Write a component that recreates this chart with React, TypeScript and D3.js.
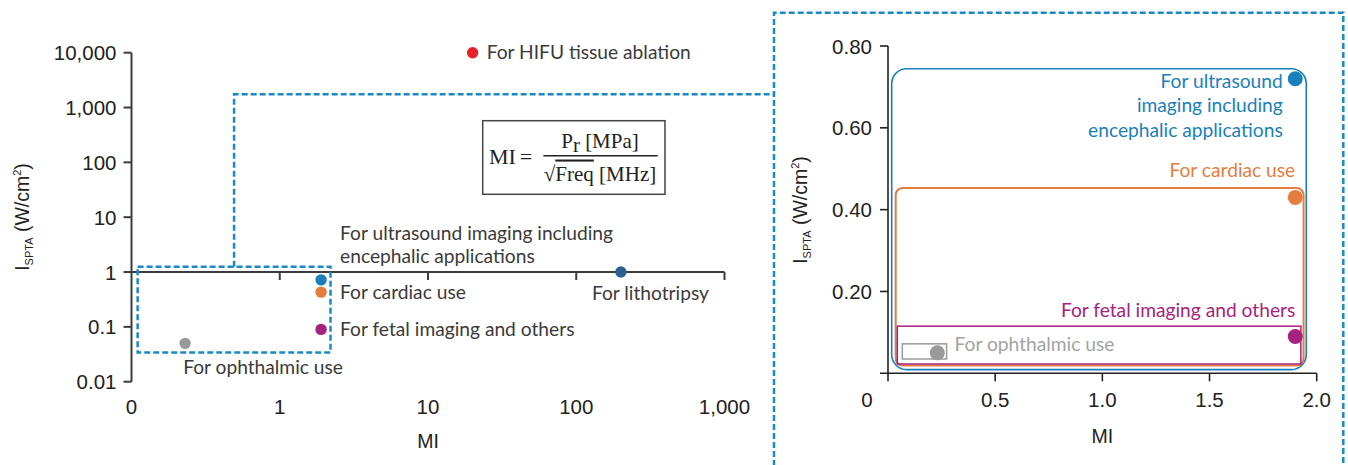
import React from 'react';
import * as d3 from 'd3';

// data
const categories = [
  'For HIFU tissue ablation',
  'For lithotripsy',
  'For ultrasound imaging including encephalic applications',
  'For cardiac use',
  'For fetal imaging and others',
  'For ophthalmic use',
];
const miValues = [20, 200, 1.9, 1.9, 1.9, 0.23];
const isptaValues = [10000, 1, 0.72, 0.43, 0.09, 0.05];
const colors = ['#e8202a', '#2b6095', '#1a80bb', '#e57d3d', '#a5237f', '#9a9a9c'];

const logXTicks = [0.1, 1, 10, 100, 1000];
const logXLabels = ['0', '1', '10', '100', '1,000'];
const logYTicks = [0.01, 0.1, 1, 10, 100, 1000, 10000];
const logYLabels = ['0.01', '0.1', '1', '10', '100', '1,000', '10,000'];
const linXTicks = [0, 0.5, 1, 1.5, 2];
const linXLabels = ['0', '0.5', '1.0', '1.5', '2.0'];
const linYTicks = [0.2, 0.4, 0.6, 0.8];
const linYLabels = ['0.20', '0.40', '0.60', '0.80'];

// zoomed region on the log chart (MI, ISPTA)
const zoomMI = [0.11, 2.2];
const zoomISPTA = [0.034, 1.25];

const W = 1348;
const H = 465;
const tickFont = '"Liberation Sans", Arial, sans-serif';
const labelFont = 'Lato, "Noto Sans", sans-serif';
const serif = '"Liberation Serif", "Times New Roman", serif';
const dash = '#1a8ac6';
const axisColor = '#3c3c3c';
const textColor = '#3a3a3a';
const tickSize = 20.5;
const labelSize = 19.2;

function YLabel({ x, y }: { x: number; y: number }) {
  return (
    <text
      transform={`translate(${x},${y}) rotate(-90)`}
      textAnchor='middle'
      fontFamily={tickFont}
      fontSize={19.5}
      fill='#222'
    >
      I
      <tspan fontSize={11} dy={4}>SPTA</tspan>
      <tspan dy={-4}> (W/cm</tspan>
      <tspan fontSize={11} dy={-8}>2</tspan>
      <tspan dy={8}>)</tspan>
    </text>
  );
}

export default function App() {
  // scales
  const xL = d3.scaleLog().domain([0.1, 1000]).range([131.5, 724.5]);
  const yL = d3.scaleLog().domain([0.01, 10000]).range([381.7, 52.7]);
  const xR = d3.scaleLinear().domain([0, 2]).range([888, 1316.7]);
  const yR = d3.scaleLinear().domain([0, 0.8]).range([373.3, 46]);

  const pts = categories.map((c, i) => ({ key: c, mi: miValues[i], v: isptaValues[i], color: colors[i] }));

  // left chart label placement (offsets from point)
  const leftLabels = [
    { i: 0, lines: ['For HIFU tissue ablation'], dx: 14, dy: 0, anchor: 'start' },
    { i: 1, lines: ['For lithotripsy'], dx: -29, dy: 21, anchor: 'start' },
    { i: 2, lines: ['For ultrasound imaging including', 'encephalic applications'], dx: 19, dy: -47, anchor: 'start' },
    { i: 3, lines: ['For cardiac use'], dx: 19, dy: 0, anchor: 'start' },
    { i: 4, lines: ['For fetal imaging and others'], dx: 19, dy: 0, anchor: 'start' },
    { i: 5, lines: ['For ophthalmic use'], dx: -2, dy: 24, anchor: 'start' },
  ];

  // right chart labels
  const rightLabels = [
    { i: 2, lines: ['For ultrasound', 'imaging including', 'encephalic applications'], dx: -12.5, dy: 2.7, anchor: 'end' },
    { i: 3, lines: ['For cardiac use'], dx: 0, dy: -26.7, anchor: 'end' },
    { i: 4, lines: ['For fetal imaging and others'], dx: 0, dy: -26.3, anchor: 'end' },
    { i: 5, lines: ['For ophthalmic use'], dx: 17.3, dy: -8.3, anchor: 'start' },
  ];

  // nested regions on the right chart
  const regions = [
    { i: 2, inset: 3.7, padR: 11, padT: 10, r: 15, sw: 1.6 },
    { i: 3, inset: 7.7, padR: 8.3, padT: 9.4, r: 7, sw: 2 },
    { i: 4, inset: 9.3, padR: 5.6, padT: 10.3, r: 0, sw: 1.5 },
    { i: 5, inset: 14.3, padR: 9.3, padT: 9, r: 0, sw: 1.5 },
  ];

  const zx0 = xL(zoomMI[0]);
  const zx1 = xL(zoomMI[1]);
  const zy0 = yL(zoomISPTA[1]);
  const zy1 = yL(zoomISPTA[0]);
  const zcx = (zx0 + zx1) / 2;

  return (
    <svg width={W} height={H} style={{ position: 'absolute', left: 0, top: 0, background: '#fff' }}>
      {/* ---------- left log chart ---------- */}
      <line x1={xL(0.1)} x2={xL(0.1)} y1={yL(10000)} y2={yL(0.01)} stroke={axisColor} strokeWidth={2} />
      {logYTicks.map((t, i) => (
        <g key={t}>
          <line x1={xL(0.1) - 8} x2={xL(0.1)} y1={yL(t)} y2={yL(t)} stroke={axisColor} strokeWidth={2} />
          <text x={xL(0.1) - 15} y={yL(t)} textAnchor='end' dominantBaseline='central' fontFamily={tickFont} fontSize={tickSize} fill='#222'>
            {logYLabels[i]}
          </text>
        </g>
      ))}
      <line x1={xL(0.1)} x2={xL(1000)} y1={yL(1)} y2={yL(1)} stroke={axisColor} strokeWidth={2} />
      {logXTicks.map((t, i) => (
        <g key={t}>
          {i > 0 && <line x1={xL(t)} x2={xL(t)} y1={yL(1)} y2={yL(1) + 8} stroke={axisColor} strokeWidth={2} />}
          <text x={xL(t)} y={406.7} textAnchor='middle' dominantBaseline='central' fontFamily={tickFont} fontSize={tickSize} fill='#222'>
            {logXLabels[i]}
          </text>
        </g>
      ))}
      <text x={xL(10)} y={441} textAnchor='middle' dominantBaseline='central' fontFamily={tickFont} fontSize={19.5} fill='#222'>MI</text>
      <YLabel x={29} y={217} />

      {/* formula box */}
      <rect x={482.7} y={120.7} width={182.3} height={73.6} fill='#fff' stroke='#444' strokeWidth={1.5} />
      <text x={489} y={156} dominantBaseline='central' fontFamily={serif} fontSize={22} fill='#222'>MI</text>
      <text x={526} y={156} textAnchor='middle' dominantBaseline='central' fontFamily={serif} fontSize={22} fill='#222'>=</text>
      <line x1={543.3} x2={657.7} y1={155.7} y2={155.7} stroke='#222' strokeWidth={1.6} />
      <text x={600} y={141} textAnchor='middle' dominantBaseline='central' fontFamily={serif} fontSize={21} fill='#222'>
        P<tspan dy={4}>r</tspan><tspan dy={-4}> [MPa]</tspan>
      </text>
      <text x={600} y={173.5} textAnchor='middle' dominantBaseline='central' fontFamily={serif} fontSize={21} fill='#222'>
        √<tspan style={{ textDecoration: 'overline' }}>Freq</tspan> [MHz]
      </text>

      {/* zoom box and connector */}
      <rect x={zx0} y={zy0} width={zx1 - zx0} height={zy1 - zy0} fill='none' stroke={dash} strokeWidth={2.5} strokeDasharray='6 3' />
      <path d={`M${zcx},${zy0} V94.3 H774`} fill='none' stroke={dash} strokeWidth={2.5} strokeDasharray='6 3' />

      {pts.map((p) => (
        <circle key={p.key} cx={xL(p.mi)} cy={yL(p.v)} r={5.7} fill={p.color} />
      ))}
      {leftLabels.map((l) => {
        const p = pts[l.i];
        return (
          <text key={p.key} x={xL(p.mi) + l.dx} y={yL(p.v) + l.dy} textAnchor={l.anchor} fontFamily={labelFont} fontSize={labelSize} fill={textColor}>
            {l.lines.map((s, k) => (
              <tspan key={k} x={xL(p.mi) + l.dx} dy={k === 0 ? '0.35em' : 23}>{s}</tspan>
            ))}
          </text>
        );
      })}

      {/* ---------- right linear chart ---------- */}
      <path d={`M774,${H + 10} V12.7 H1343.3 V${H + 10}`} fill='none' stroke={dash} strokeWidth={2.5} strokeDasharray='6 3' />

      {regions.map((g) => {
        const p = pts[g.i];
        const x0 = xR(0) + g.inset;
        const y1 = yR(0) - g.inset;
        const x1 = xR(p.mi) + g.padR;
        const y0 = yR(p.v) - g.padT;
        return (
          <rect key={g.i} x={x0} y={y0} width={x1 - x0} height={y1 - y0} rx={g.r} ry={g.r} fill='none' stroke={p.color} strokeWidth={g.sw} />
        );
      })}

      <line x1={xR(0)} x2={xR(0)} y1={yR(0.8)} y2={yR(0)} stroke='#222' strokeWidth={1.6} />
      {linYTicks.map((t, i) => (
        <g key={t}>
          <line x1={xR(0) - 8} x2={xR(0)} y1={yR(t)} y2={yR(t)} stroke='#222' strokeWidth={1.6} />
          <text x={xR(0) - 16} y={yR(t)} textAnchor='end' dominantBaseline='central' fontFamily={tickFont} fontSize={tickSize} fill='#222'>
            {linYLabels[i]}
          </text>
        </g>
      ))}
      <line x1={xR(0) - 8} x2={xR(2)} y1={yR(0)} y2={yR(0)} stroke='#222' strokeWidth={1.6} />
      {linXTicks.map((t, i) => (
        <g key={t}>
          <line x1={xR(t)} x2={xR(t)} y1={yR(0)} y2={yR(0) + 8} stroke='#222' strokeWidth={1.6} />
          <text x={i === 0 ? xR(t) - 21 : xR(t)} y={399.3} textAnchor='middle' dominantBaseline='central' fontFamily={tickFont} fontSize={tickSize} fill='#222'>
            {linXLabels[i]}
          </text>
        </g>
      ))}
      <text x={xR(1)} y={436} textAnchor='middle' dominantBaseline='central' fontFamily={tickFont} fontSize={19.5} fill='#222'>MI</text>
      <YLabel x={807} y={210} />

      {pts.slice(2).map((p) => (
        <circle key={p.key} cx={xR(p.mi)} cy={yR(p.v)} r={7.5} fill={p.color} />
      ))}
      {rightLabels.map((l) => {
        const p = pts[l.i];
        return (
          <text key={p.key} x={xR(p.mi) + l.dx} y={yR(p.v) + l.dy} textAnchor={l.anchor} fontFamily={labelFont} fontSize={labelSize} fill={l.i === 5 ? '#a3a3a3' : p.color}>
            {l.lines.map((s, k) => (
              <tspan key={k} x={xR(p.mi) + l.dx} dy={k === 0 ? '0.35em' : 24.2}>{s}</tspan>
            ))}
          </text>
        );
      })}
    </svg>
  );
}
